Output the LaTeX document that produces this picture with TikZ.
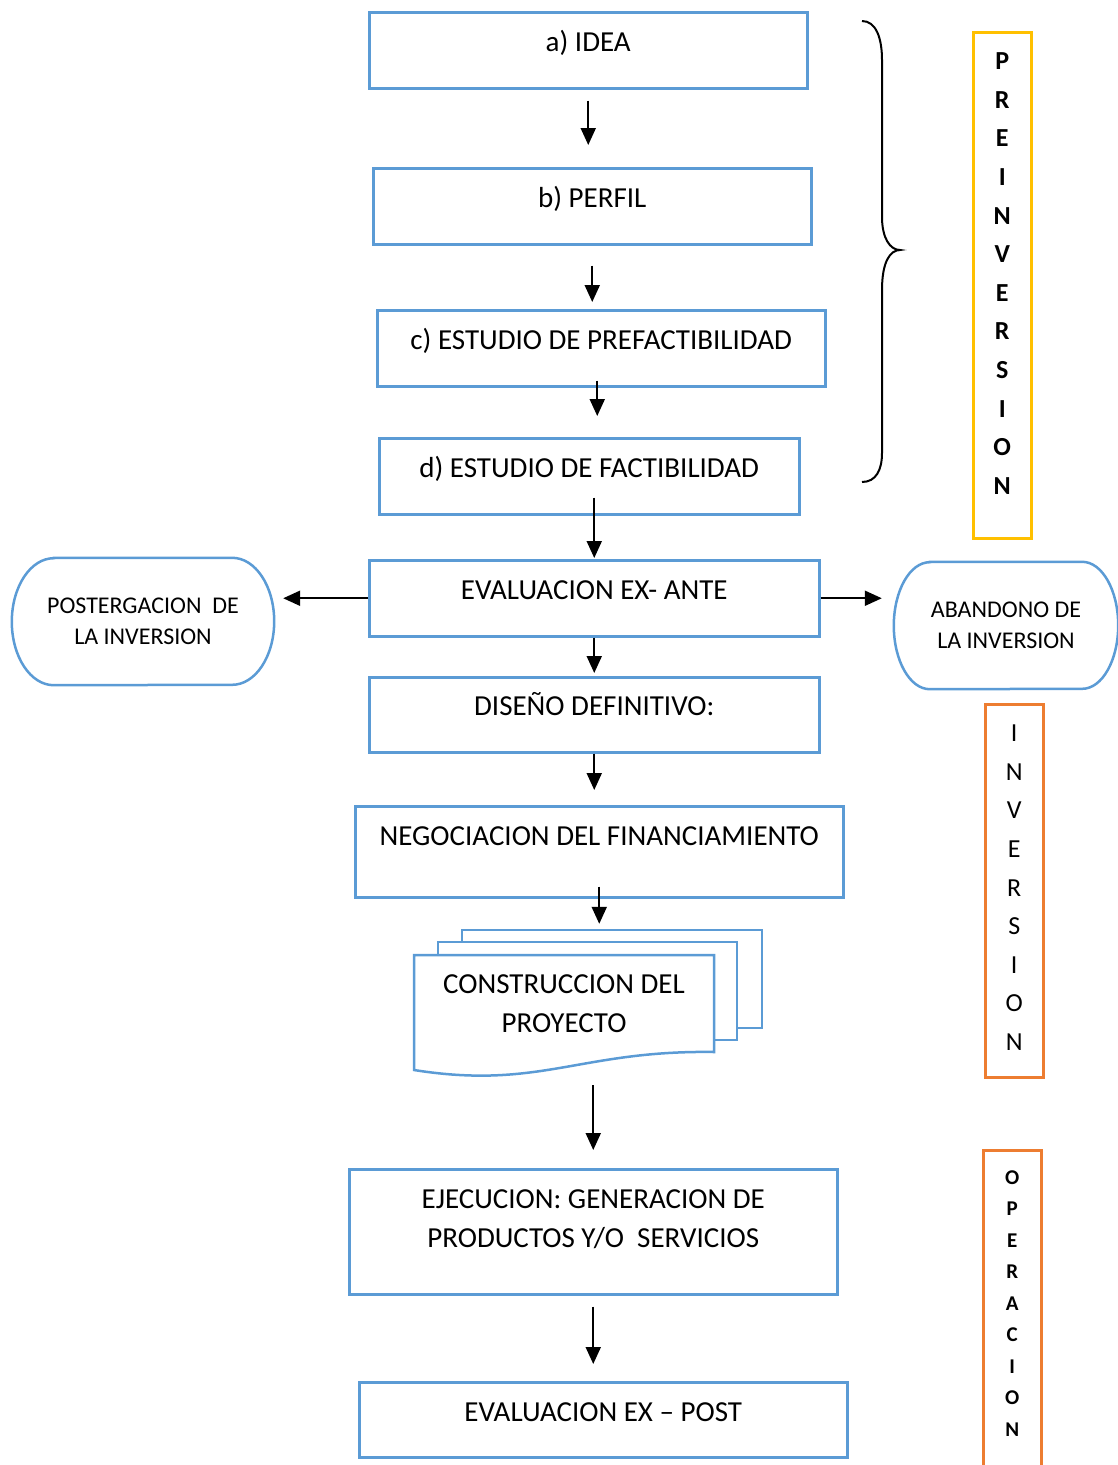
\documentclass[tikz,border=0pt]{standalone}
\usepackage{fontspec}
\setmainfont{Carlito}
\usetikzlibrary{arrows.meta}
\definecolor{azul}{HTML}{5B9BD5}
\definecolor{amarillo}{HTML}{FFC000}
\definecolor{naranja}{HTML}{ED7D31}
\begin{document}
\begin{tikzpicture}[x=1pt,y=-1pt,
    caja/.style={draw=azul,line width=2.5pt,inner sep=0pt,anchor=north west,align=flush center,
      font=\fontsize{29}{38.5}\selectfont,text height=39.5pt},
    fin/.style={inner sep=0pt,align=center,font=\fontsize{24}{31.5}\selectfont},
    borde/.style={draw=azul,line width=2.5pt},
    fase/.style={line width=2.5pt,inner sep=0pt,anchor=north west,align=flush center,text width=58pt},
    flecha/.style={line width=2pt,-{Triangle[length=17pt,width=15pt]}}]
    \useasboundingbox (0,0) rectangle (1118,1465);
    % etapas
    \node[caja,text width=438pt,text depth=36.5pt] (idea) at (368,11) {a) IDEA};
    \node[caja,text width=438pt,text depth=36.5pt] (perfil) at (372,167) {b) PERFIL};
    \node[caja,text width=448pt,text depth=36.5pt] (prefact) at (376,309) {c) ESTUDIO DE PREFACTIBILIDAD};
    \node[caja,text width=420pt,text depth=36.5pt] (fact) at (378,437) {d) ESTUDIO DE FACTIBILIDAD};
    \node[caja,text width=450pt,text depth=36.5pt] (exante) at (368,559) {EVALUACION EX- ANTE};
    \node[caja,text width=450pt,text depth=36.5pt,text height=38.5pt] (diseno) at (368,676) {DISEÑO DEFINITIVO:};
    \node[caja,text width=488pt,text depth=51.5pt] (negoc) at (354,805) {NEGOCIACION DEL FINANCIAMIENTO};
    \node[caja,text width=488pt,text depth=85.5pt] (ejec) at (348,1168) {EJECUCION: GENERACION DE\\PRODUCTOS Y/O\ \ SERVICIOS};
    \node[caja,text width=488pt,text depth=35.5pt] (expost) at (358,1381) {EVALUACION EX -- POST};
    % documentos
    \draw[borde] (462,942) -- (462,930) -- (762,930) -- (762,1028) -- (737,1028);
    \draw[borde] (438,955) -- (438,942) -- (737,942) -- (737,1040) -- (714,1040);
    \draw[borde] (414,955) -- (714,955) -- (714,1052) .. controls (580,1050) and (540,1090) .. (414,1070) -- cycle;
    \node[inner sep=0pt,align=center,minimum width=300pt,minimum height=97pt,font=\fontsize{29}{39}\selectfont] (constr) at (564,1003.5) {CONSTRUCCION DEL\\PROYECTO};
    % decisiones
    \node[fin,minimum width=262pt,minimum height=127pt] (post) at (143,621.5) {POSTERGACION\ \ DE\\LA INVERSION};
    \draw[borde] ([xshift=42pt]post.north west) -- ([xshift=-42pt]post.north east)
      arc[start angle=90,end angle=-90,x radius=42pt,y radius=63.5pt]
      -- ([xshift=42pt]post.south west)
      arc[start angle=270,end angle=90,x radius=42pt,y radius=63.5pt] -- cycle;
    \node[fin,minimum width=224pt,minimum height=127pt] (aband) at (1006,625.5) {ABANDONO DE\\LA INVERSION};
    \draw[borde] ([xshift=36pt]aband.north west) -- ([xshift=-36pt]aband.north east)
      arc[start angle=90,end angle=-90,x radius=36pt,y radius=63.5pt]
      -- ([xshift=36pt]aband.south west)
      arc[start angle=270,end angle=90,x radius=36pt,y radius=63.5pt] -- cycle;
    % fases
    \node[fase,draw=amarillo,font=\bfseries\fontsize{26}{38.6}\selectfont,text height=37.4pt,text depth=468.6pt] (pre) at (972,31) {P\\R\\E\\I\\N\\V\\E\\R\\S\\I\\O\\N};
    \node[fase,draw=naranja,font=\fontsize{26}{38.6}\selectfont,text height=37.4pt,text depth=335.6pt] (inv) at (984,703) {I\\N\\V\\E\\R\\S\\I\\O\\N};
    \node[fase,draw=naranja,font=\bfseries\fontsize{21}{31.5}\selectfont,text height=33.8pt,text depth=290pt] (oper) at (982,1149) {O\\P\\E\\R\\A\\C\\I\\O\\N};
    % llave
    \draw[line width=2pt] (862,21) .. controls (876,21) and (882,38) .. (882,60) -- (882,217)
      .. controls (882,238) and (890,250) .. (900,250) .. controls (890,250) and (882,262) .. (882,290)
      -- (882,453) .. controls (882,470) and (876,482) .. (862,482);
    % flechas
    \draw[flecha,shorten <=11pt,shorten >=22pt] (idea.south) -- (idea.south |- perfil.north);
    \draw[flecha,shorten <=20pt,shorten >=7pt] (perfil.south) -- (perfil.south |- prefact.north);
    \draw[flecha,shorten <=-7pt,shorten >=21pt] ([xshift=-4pt]prefact.south) -- ([xshift=-4pt]prefact.south |- fact.north);
    \draw[flecha,shorten <=-18pt,shorten >=1pt] (exante.north |- fact.south) -- (exante.north);
    \draw[flecha,shorten >=3pt] (exante.south) -- (diseno.north);
    \draw[flecha,shorten >=15pt] (diseno.south) -- (diseno.south |- negoc.north);
    \draw[flecha,shorten <=-12pt,shorten >=31pt] (negoc.south) -- (negoc.south |- constr.north);
    \draw[flecha,shorten <=33pt,shorten >=18pt] (ejec.north |- constr.south) -- (ejec.north);
    \draw[flecha,shorten <=11pt,shorten >=17pt] (ejec.south) -- (ejec.south |- expost.north);
    \draw[flecha,shorten >=9pt] (exante.west) -- (exante.west -| post.east);
    \draw[flecha,shorten >=12pt] (exante.east) -- (exante.east -| aband.west);
\end{tikzpicture}
\end{document}
